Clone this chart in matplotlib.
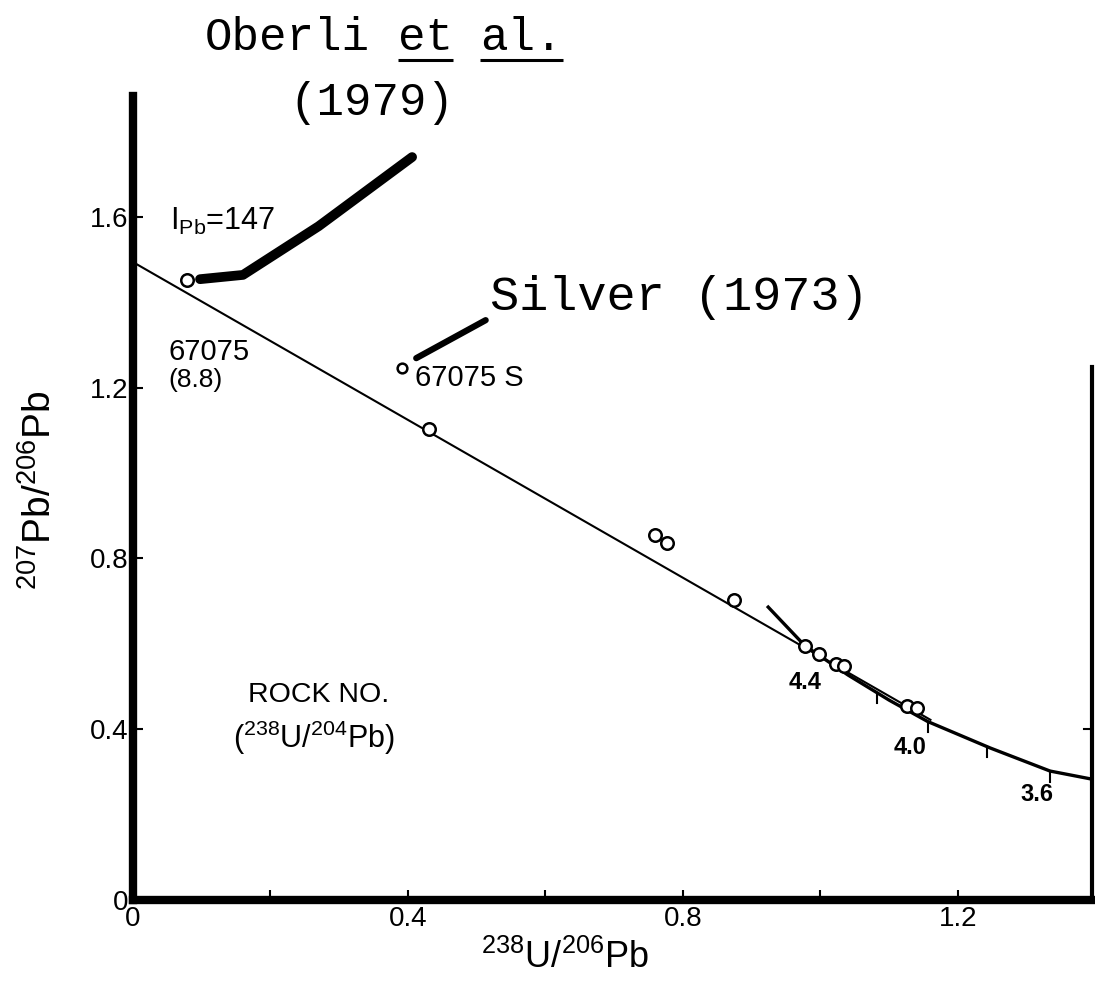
import matplotlib
matplotlib.use("Agg")
import matplotlib.pyplot as plt
import numpy as np

# isochron (straight line) and concordia curve
iso_x = [0.0, 1.16]
iso_y = [1.494, 0.422]
conc_x = [0.924, 0.977, 1.04, 1.10, 1.156, 1.247, 1.334, 1.395]
conc_y = [0.686, 0.596, 0.527, 0.468, 0.418, 0.356, 0.302, 0.283]

# concordia age marks (Gyr)
age_tick_x = [1.082, 1.156, 1.242, 1.334]
age_labels = ["4.4", "4.0", "3.6"]
age_label_x = [0.977, 1.13, 1.315]
age_label_y = [0.51, 0.358, 0.246]

# analysed samples (open circles)
pt_x = [0.0785, 0.430, 0.759, 0.777, 0.874, 0.977, 0.998, 1.023, 1.034, 1.126, 1.140]
pt_y = [1.452, 1.102, 0.855, 0.836, 0.703, 0.595, 0.576, 0.553, 0.547, 0.455, 0.450]
silver_x = [0.391]
silver_y = [1.246]

# leader strokes to the reference names
oberli_lead_x = [0.0975, 0.16, 0.27, 0.406]
oberli_lead_y = [1.454, 1.464, 1.578, 1.74]
silver_lead_x = [0.412, 0.513]
silver_lead_y = [1.269, 1.358]

x_ticks = [0, 0.4, 0.8, 1.2]
x_minor = [0.2, 0.6, 1.0]
y_ticks = [0, 0.4, 0.8, 1.2, 1.6]

SANS = "Liberation Sans"
MONO = "Liberation Mono"

plt.rcParams["font.family"] = [SANS, "DejaVu Sans"]
plt.rcParams["mathtext.fontset"] = "custom"
plt.rcParams["mathtext.rm"] = SANS


def underline(fig, ax, txt, dy=0.0, lw=2.2):
    """draw a line just below a text object (in data coords)"""
    r = fig.canvas.get_renderer()
    bb = txt.get_window_extent(renderer=r)
    inv = ax.transData.inverted()
    (x0, y0), (x1, _) = inv.transform([(bb.x0, bb.y0), (bb.x1, bb.y0)])
    ax.plot([x0, x1], [y0 - dy, y0 - dy], color="black", lw=lw,
            clip_on=False, solid_capstyle="butt")


def main():
    fig = plt.figure(figsize=(10.95, 9.93), dpi=100)
    ax = fig.add_axes([133 / 1095, 1 - 900 / 993, (1092 - 133) / 1095, (900 - 96) / 993])
    ax.set_xlim(0, 1.395)
    ax.set_ylim(0, 1.883)

    # frame: heavy left and bottom, thinner short right side, no top
    ax.spines["top"].set_visible(False)
    ax.spines["left"].set_linewidth(6)
    ax.spines["bottom"].set_linewidth(6)
    ax.spines["right"].set_linewidth(3)
    ax.spines["right"].set_bounds(0, 1.248)

    ax.set_xticks(x_ticks)
    ax.set_xticklabels(["0", "0.4", "0.8", "1.2"])
    ax.set_xticks(x_minor, minor=True)
    ax.set_yticks(y_ticks)
    ax.set_yticklabels(["0", "0.4", "0.8", "1.2", "1.6"])
    ax.tick_params(axis="both", which="both", direction="in", length=7, width=1.5,
                   labelsize=20, pad=4)
    ax.tick_params(axis="y", pad=3)
    # single inward tick on the short right side
    ax.plot([1.395 - 0.012, 1.395], [0.4, 0.4], color="black", lw=1.5, clip_on=False)

    ax.plot(iso_x, iso_y, color="black", lw=1.5)
    ax.plot(conc_x, conc_y, color="black", lw=2.4)

    # age ticks hanging below the concordia
    ty = np.interp(age_tick_x, conc_x, conc_y)
    for x, y in zip(age_tick_x, ty):
        ax.plot([x, x], [y, y - 0.025], color="black", lw=1.5)
    for s, x, y in zip(age_labels, age_label_x, age_label_y):
        ax.text(x, y, s, fontsize=17, fontweight="bold", ha="center", va="center")

    ax.plot(pt_x, pt_y, "o", ms=9, mfc="white", mec="black", mew=1.8, ls="none")
    ax.plot(silver_x, silver_y, "o", ms=7, mfc="white", mec="black", mew=1.8, ls="none")

    ax.plot(oberli_lead_x, oberli_lead_y, color="black", lw=7, solid_capstyle="round",
            clip_on=False)
    ax.plot(silver_lead_x, silver_lead_y, color="black", lw=4.5, solid_capstyle="round")

    # sample labels
    ax.text(0.054, 1.59, r"$\mathregular{I_{Pb}}$=147", fontsize=22, va="center")
    ax.text(0.051, 1.283, "67075", fontsize=21, va="center")
    ax.text(0.051, 1.218, "(8.8)", fontsize=19, va="center")
    ax.text(0.41, 1.222, "67075 S", fontsize=21, va="center")
    ax.text(0.167, 0.48, "ROCK NO.", fontsize=20.5, va="center")
    ax.text(0.145, 0.379, r"($\mathregular{^{238}U/^{204}Pb}$)", fontsize=22, va="center")

    # typewritten reference names
    cw = 0.6 * 33 / 72 * 100 / 687.5
    ax.text(0.105, 2.02, "Oberli", fontsize=33, family=MONO, va="center", clip_on=False)
    t_et = ax.text(0.105 + 7 * cw, 2.02, "et", fontsize=33,
                   family=MONO, va="center", clip_on=False)
    t_al = ax.text(0.105 + 10 * cw, 2.02, "al.", fontsize=33,
                   family=MONO, va="center", clip_on=False)
    ax.text(0.228, 1.866, "(1979)", fontsize=33, family=MONO, va="center", clip_on=False)
    ax.text(0.519, 1.412, "Silver (1973)", fontsize=35, family=MONO, va="center")
    fig.canvas.draw()
    underline(fig, ax, t_et)
    underline(fig, ax, t_al)

    fig.text(565 / 1095, 1 - 958 / 993, r"$\mathregular{^{238}U/^{206}Pb}$", fontsize=26,
             ha="center", va="center")
    fig.text(40 / 1095, 1 - 490 / 993, r"$\mathregular{^{207}Pb/^{206}Pb}$", fontsize=28,
             rotation=90, ha="center", va="center")

    fig.savefig("out.png", dpi=100)


if __name__ == "__main__":
    main()
